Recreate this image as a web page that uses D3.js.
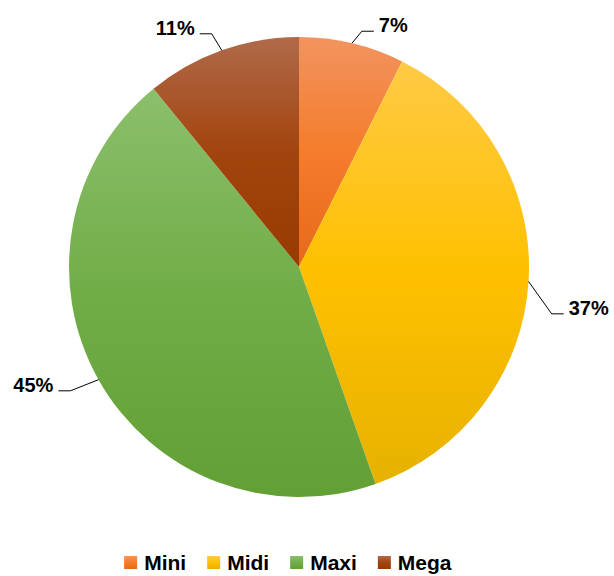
<!DOCTYPE html>
<html>
<head>
<meta charset="utf-8">
<script src="https://cdn.jsdelivr.net/npm/d3@7"></script>
<style>
  body { margin: 0; background: #fff; }
  text { font-family: "Liberation Sans", Arial, sans-serif; font-weight: bold; fill: #000; }
</style>
</head>
<body>
<div id="chart"></div>
<script>
var width = 614, height = 576;

// data
var categories = ["Mini", "Midi", "Maxi", "Mega"];
var shares = [7.4, 37.2, 44.5, 10.9];

// gradient stops per slice (top, middle, bottom)
var colors = [
  ["#F29460", "#F47C2C", "#E66A1A"],
  ["#FFCA45", "#FFC000", "#E6B200"],
  ["#8CBF6C", "#70AD47", "#62A035"],
  ["#B06A4A", "#A2440D", "#983A02"]
];

// leader line elbows: angle nudge (deg) and extra radius
var labelNudge = [
  { da: 1.6, dr: 14 },
  { da: 6.9, dr: 27 },
  { da: 0.9, dr: 30 },
  { da: -0.9, dr: 19 }
];

var cx = 299, cy = 267, radius = 230;

var svg = d3.select("#chart").append("svg")
    .attr("width", width)
    .attr("height", height);

var defs = svg.append("defs");
colors.forEach(function(c, i) {
  var g = defs.append("linearGradient")
      .attr("id", "grad" + i)
      .attr("x1", 0).attr("y1", 0).attr("x2", 0).attr("y2", 1);
  g.append("stop").attr("offset", "0%").attr("stop-color", c[0]);
  g.append("stop").attr("offset", "50%").attr("stop-color", c[1]);
  g.append("stop").attr("offset", "100%").attr("stop-color", c[2]);
});

var data = categories.map(function(d, i) { return { name: d, value: shares[i], idx: i }; });
var total = d3.sum(shares);

var pie = d3.pie().sort(null).value(function(d) { return d.value; });
var arc = d3.arc().innerRadius(0).outerRadius(radius);

var g = svg.append("g").attr("transform", "translate(" + cx + "," + cy + ")");

var arcs = pie(data);

g.selectAll("path.slice")
  .data(arcs)
  .enter().append("path")
    .attr("class", "slice")
    .attr("d", arc)
    .attr("fill", function(d) { return "url(#grad" + d.data.idx + ")"; });

function pt(a, r) { return [r * Math.sin(a), -r * Math.cos(a)]; }

arcs.forEach(function(d, i) {
  var mid = (d.startAngle + d.endAngle) / 2;
  var p0 = pt(mid, radius);
  var p1 = pt(mid + labelNudge[i].da * Math.PI / 180, radius + labelNudge[i].dr);
  var right = p1[0] > 0;
  var p2 = [p1[0] + (right ? 12 : -12), p1[1]];

  g.append("polyline")
    .attr("points", [p0, p1, p2].map(function(p) { return p.join(","); }).join(" "))
    .attr("fill", "none")
    .attr("stroke", "#000")
    .attr("stroke-width", 1);

  g.append("text")
    .attr("x", p2[0] + (right ? 5 : -5))
    .attr("y", p2[1] + 1)
    .attr("text-anchor", right ? "start" : "end")
    .style("font-size", "20px")
    .text(Math.round(d.data.value / total * 100) + "%");
});

// legend
var legend = svg.append("g");
var lx = 0;
var items = legend.selectAll("g.item")
  .data(data)
  .enter().append("g")
    .attr("class", "item");

items.append("rect")
  .attr("width", 13).attr("height", 13)
  .attr("y", -14)
  .attr("fill", function(d) { return "url(#grad" + d.idx + ")"; });

items.append("text")
  .attr("x", 20)
  .attr("y", 0)
  .style("font-size", "21px")
  .text(function(d) { return d.name; });

items.each(function() {
  var w = this.getBBox().width;
  d3.select(this).attr("transform", "translate(" + lx + ",0)");
  lx += w + 21;
});
lx -= 21;
legend.attr("transform", "translate(" + (288 - lx / 2) + ",570)");
</script>
</body>
</html>
